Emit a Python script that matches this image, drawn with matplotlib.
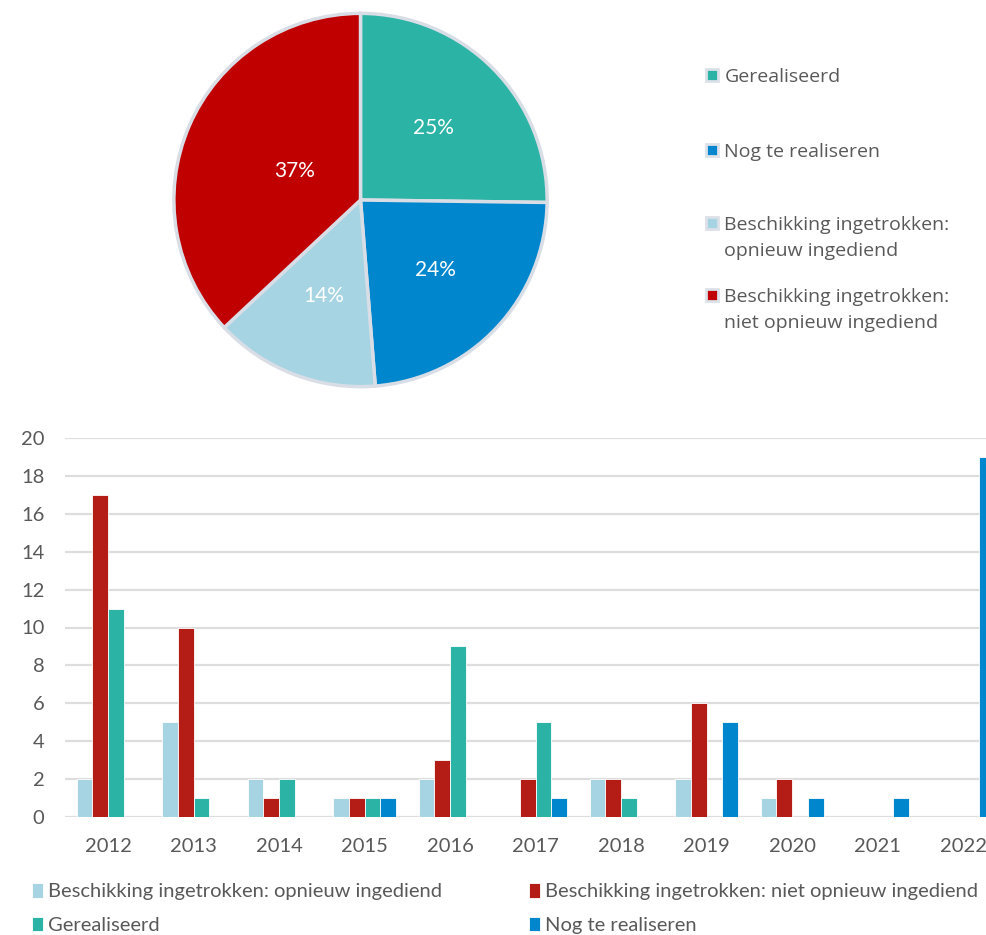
import matplotlib
matplotlib.use("Agg")
import matplotlib.pyplot as plt
from matplotlib.patches import Patch
import numpy as np

# ---------------- data ----------------
years = ["2012", "2013", "2014", "2015", "2016", "2017", "2018", "2019", "2020", "2021", "2022"]
opnieuw = [2, 5, 2, 1, 2, 0, 2, 2, 1, 0, 0]
niet_opnieuw = [17, 10, 1, 1, 3, 2, 2, 6, 2, 0, 0]
gerealiseerd = [11, 1, 2, 1, 9, 5, 1, 0, 0, 0, 0]
nog_te = [0, 0, 0, 1, 0, 1, 0, 5, 1, 1, 19]

pie_labels = ["Gerealiseerd", "Nog te realiseren",
              "Beschikking ingetrokken:\nopnieuw ingediend",
              "Beschikking ingetrokken:\nniet opnieuw ingediend"]
pie_values = [sum(gerealiseerd), sum(nog_te), sum(opnieuw), sum(niet_opnieuw)]

bar_labels = ["Beschikking ingetrokken: opnieuw ingediend",
              "Beschikking ingetrokken: niet opnieuw ingediend",
              "Gerealiseerd", "Nog te realiseren"]

# ---------------- styles ----------------
C_LIGHT = "#A6D4E3"
C_RED_BAR = "#B41C16"
C_RED_PIE = "#C00000"
C_TEAL = "#2BB3A6"
C_BLUE = "#0086CD"
TXT = "#595959"
FONT = "Lato"

W, H = 987, 935
fig = plt.figure(figsize=(W / 100, H / 100), dpi=100)

# ---------------- pie ----------------
cx, cy, r = 360.5, 200, 188.5
axp = fig.add_axes([(cx - r) / W, 1 - (cy + r) / H, 2 * r / W, 2 * r / H])
wedges, texts, autotexts = axp.pie(
    pie_values,
    colors=[C_TEAL, C_BLUE, C_LIGHT, C_RED_PIE],
    startangle=90, counterclock=False,
    autopct=lambda p: f"{p:.0f}%", pctdistance=0.55,
    wedgeprops=dict(edgecolor="#D9DEE6", linewidth=2.5),
    textprops=dict(color="white", fontsize=15, family=FONT),
)
x, y = autotexts[3].get_position()
autotexts[3].set_position((x * 0.7, y * 0.7))
axp.set_xlim(-1.01, 1.01)
axp.set_ylim(-1.01, 1.01)
axp.set_aspect("equal")
axp.axis("off")

# pie legend: marker aligned with first line, second line continues below
leg_y = [77, 152, 225, 297]
line_step = 26
second_lines = []
for lab, col, yy in zip(pie_labels, [C_TEAL, C_BLUE, C_LIGHT, C_RED_PIE], leg_y):
    parts = lab.split("\n")
    lg = fig.legend(handles=[Patch(facecolor=col, edgecolor="#DCE1E8", linewidth=2)],
                    labels=[parts[0]], loc="center left",
                    bbox_to_anchor=(706 / W, 1 - yy / H), frameon=False,
                    borderpad=0, borderaxespad=0,
                    handlelength=0.6, handleheight=0.6, handletextpad=0.35,
                    prop=dict(family="Open Sans", size=14), labelcolor=TXT)
    if len(parts) > 1:
        second_lines.append((lg, parts[1], yy + line_step))

fig.canvas.draw()
for lg, txt, yy in second_lines:
    tx = lg.get_texts()[0].get_window_extent().x0
    fig.text(tx / W, 1 - yy / H, txt, family="Open Sans", size=14,
             color=TXT, ha="left", va="center")

# ---------------- bars ----------------
unit = 85.5
left_px = 65.3
axb = fig.add_axes([left_px / W, 1 - 817 / H, 11 * unit / W, (817 - 438) / H])
xs = np.arange(len(years))
bw = 0.184
series = [opnieuw, niet_opnieuw, gerealiseerd, nog_te]
cols = [C_LIGHT, C_RED_BAR, C_TEAL, C_BLUE]
handles = []
for i, (vals, col, lab) in enumerate(zip(series, cols, bar_labels)):
    b = axb.bar(xs + (i - 1.5) * bw, vals, width=bw, color=col,
                edgecolor="white", linewidth=0.6, label=lab, zorder=3)
    handles.append(b)

axb.set_xlim(-0.5, len(years) - 0.5)
axb.set_ylim(0, 20)
axb.set_yticks(np.arange(0, 21, 2))
axb.set_xticks(xs)
axb.set_xticklabels(years)
axb.yaxis.grid(True, color="#DDDDDD", linewidth=1.6, zorder=0)
axb.set_axisbelow(True)
for s in axb.spines.values():
    s.set_visible(False)
axb.tick_params(axis="both", length=0, labelsize=14.5, labelcolor=TXT)
axb.tick_params(axis="y", pad=15)
axb.tick_params(axis="x", pad=15)
for t in axb.get_xticklabels() + axb.get_yticklabels():
    t.set_family(FONT)

# bottom legend: order so that row-major matches reference
order = [0, 2, 1, 3]
fig.legend([handles[i] for i in order], [bar_labels[i] for i in order],
           ncol=2, loc="upper left", bbox_to_anchor=(32 / W, 1 - 883 / H),
           frameon=False, borderpad=0, borderaxespad=0,
           handlelength=0.55, handleheight=0.75, handletextpad=0.25,
           columnspacing=4.3, labelspacing=0.8,
           prop=dict(family=FONT, size=14.5), labelcolor=TXT)

fig.savefig("out.png", dpi=100)
